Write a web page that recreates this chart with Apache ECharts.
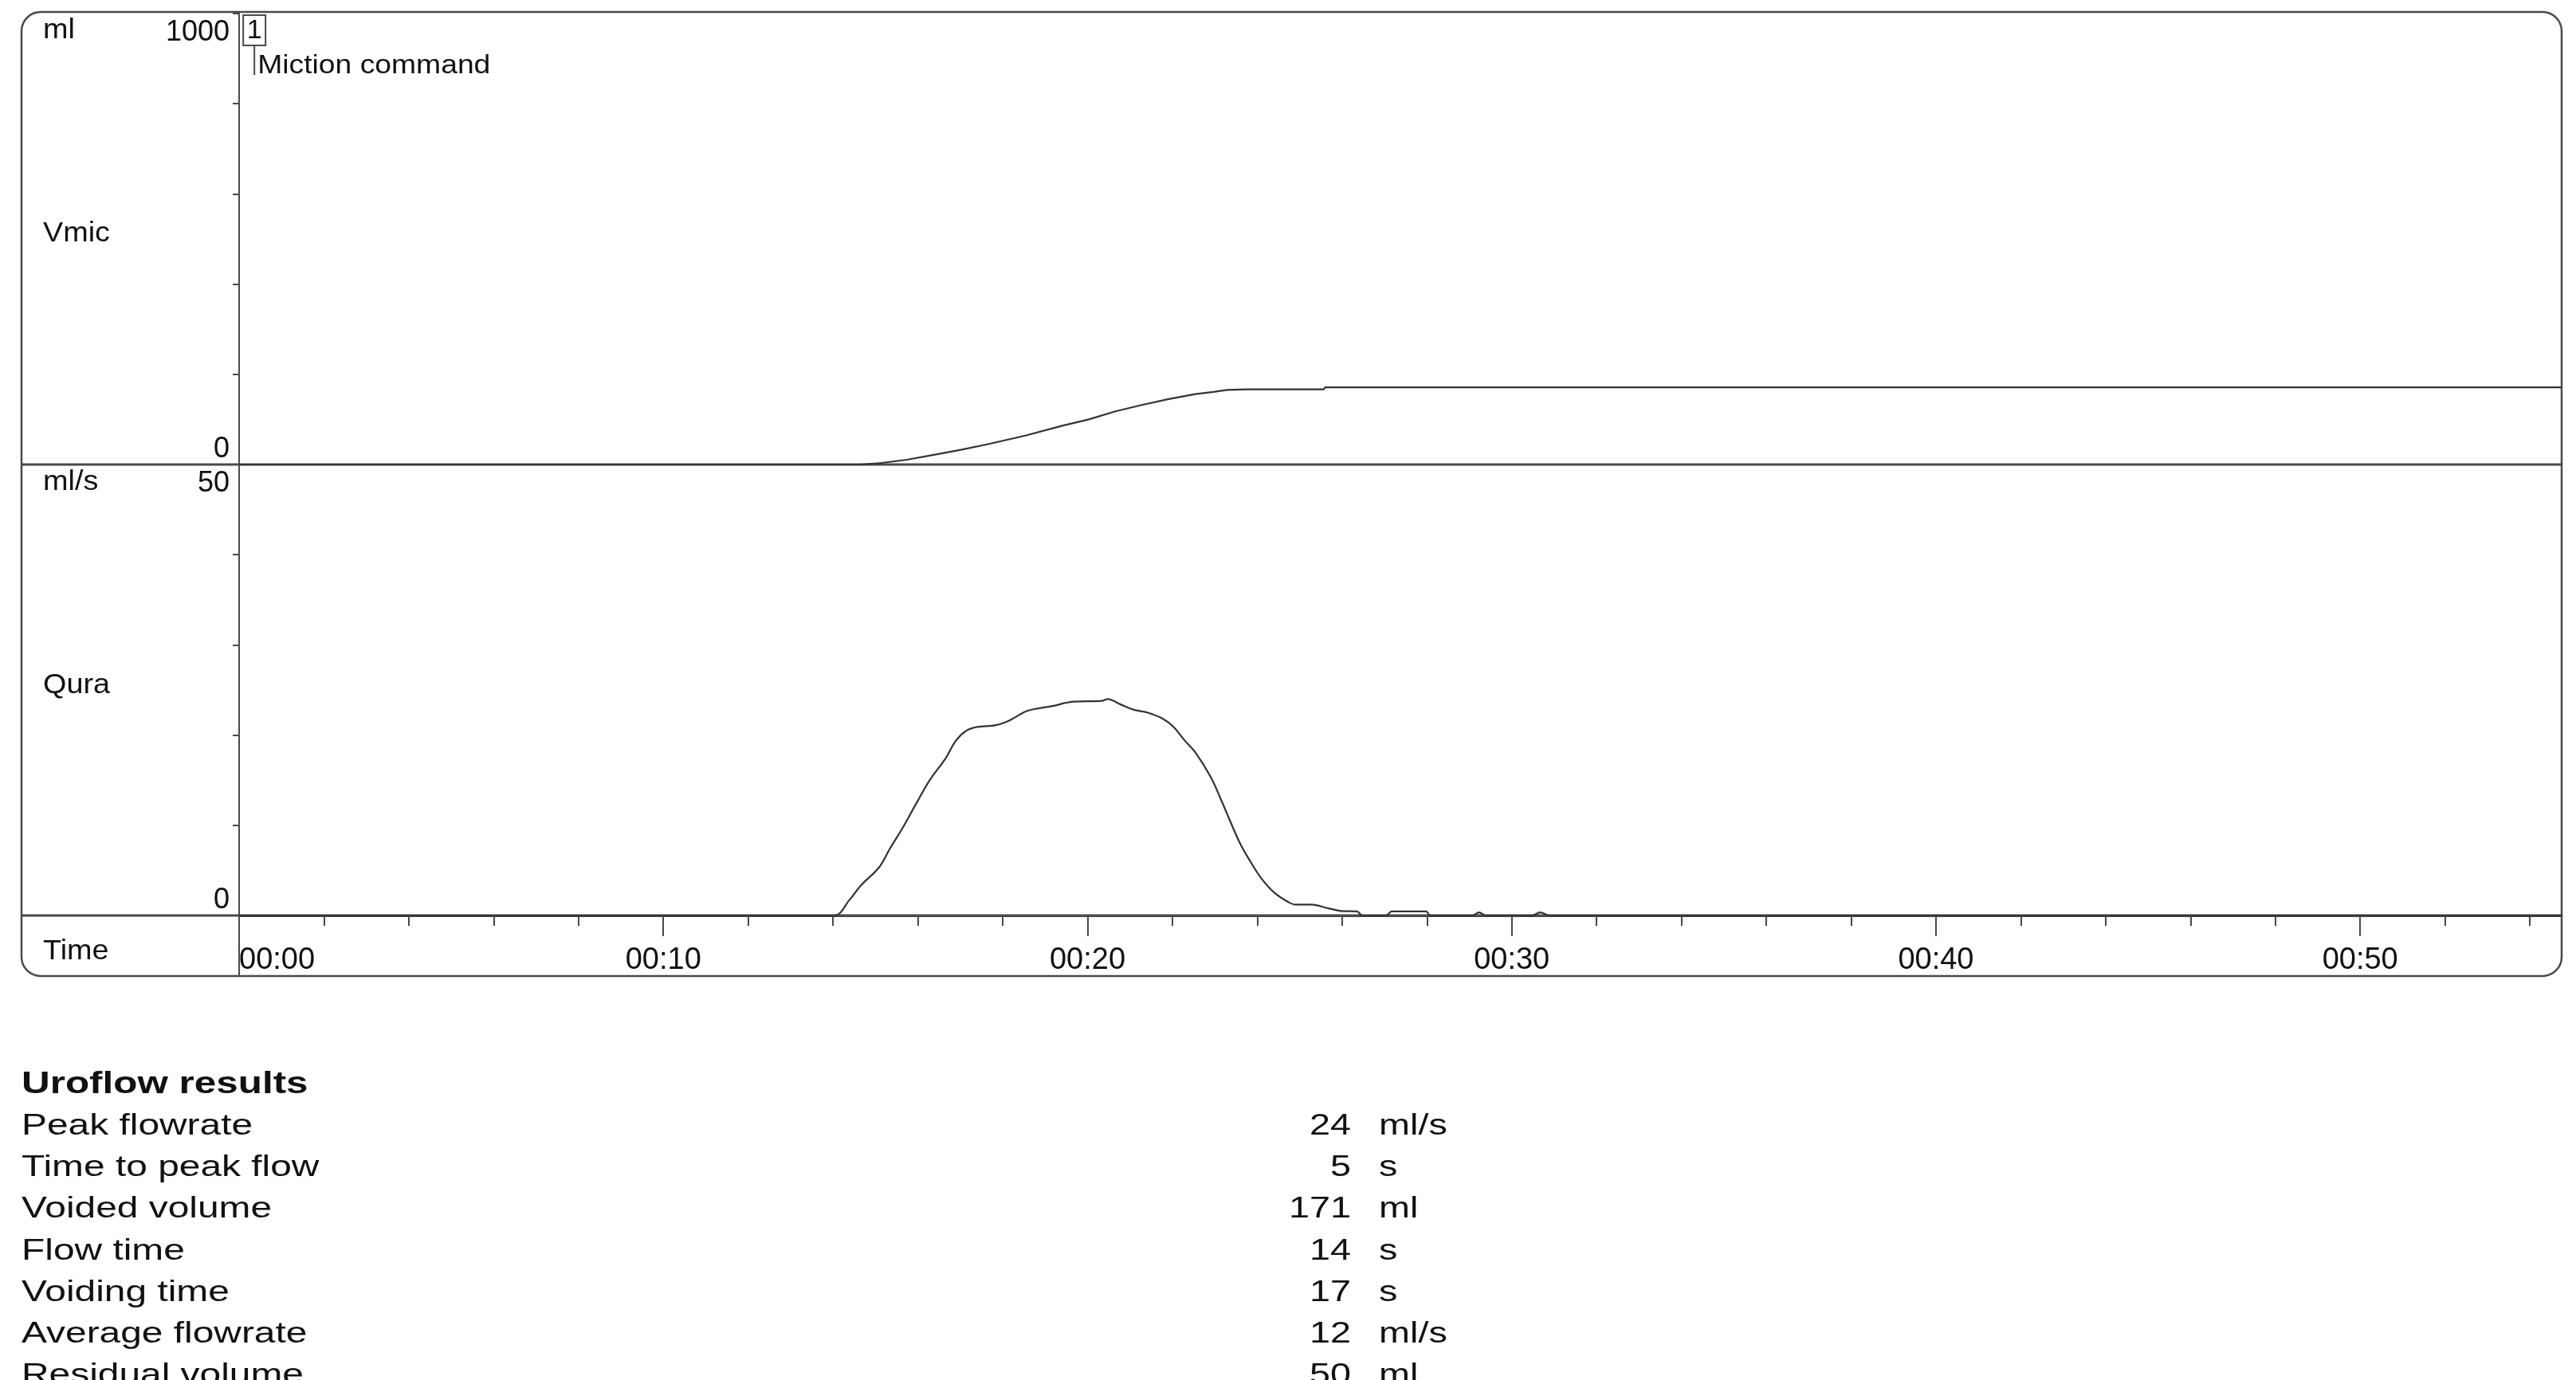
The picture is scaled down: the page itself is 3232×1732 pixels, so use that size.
<!DOCTYPE html>
<html>
<head>
<meta charset="utf-8">
<script src="https://cdn.jsdelivr.net/npm/echarts@6/dist/echarts.min.js"></script>
<style>
html,body{margin:0;padding:0;background:#fff;}
#c{width:3232px;height:1732px;}
</style>
</head>
<body>
<div id="c"></div>
<script>
// ---- data ----
const vmicTime   = [0, 14.65, 15.15, 15.74, 16.40, 17.03, 17.65, 18.53, 19.40, 20.03, 20.66, 21.28, 21.91, 22.54, 22.97, 23.29, 23.79, 25.57, 25.60, 54.75];
const vmicVolume = [0, 0, 3.5, 10.6, 22, 33, 45, 64, 86, 100, 118, 132, 145, 156, 161, 165.5, 166.6, 166.6, 171, 171];

const quraTime = [0, 14.02, 14.40, 14.65, 15.08, 15.34, 15.64, 15.96, 16.28, 16.65,
                  16.90, 17.15, 17.40, 17.84, 18.15, 18.59, 19.15, 19.66, 20.34, 20.47,
                  20.78, 21.10, 21.41, 21.78, 22.03, 22.29, 22.54, 22.91, 23.16, 23.35,
                  23.60, 23.85, 24.10, 24.41, 24.73, 24.91, 25.29, 25.67, 25.98, 26.35,
                  26.48, 27.04, 27.17, 27.98, 28.08, 29.08, 29.23, 29.39, 30.48, 30.67,
                  30.89, 54.75];
const quraFlow = [0, 0, 1.8, 3.3, 5.3, 7.4, 9.7, 12.4, 15.0, 17.4,
                  19.4, 20.5, 20.9, 21.1, 21.6, 22.7, 23.2, 23.7, 23.8, 24.0,
                  23.4, 22.8, 22.5, 21.8, 20.9, 19.4, 18.1, 15.3, 12.7, 10.6,
                  7.95, 5.9, 4.1, 2.5, 1.5, 1.2, 1.2, 0.8, 0.5, 0.45,
                  0, 0, 0.45, 0.45, 0, 0, 0.35, 0, 0, 0.35,
                  0, 0];

const volumeMax = 1000;
const volumeInterval = 200;
const flowMax = 50;
const flowInterval = 10;
const timeMax = 54.75;
const majorTimeTicks = [0, 10, 20, 30, 40, 50];
const timeTickLabels = ['00:00', '00:10', '00:20', '00:30', '00:40', '00:50'];
const minorTimeTicks = [2, 4, 6, 8, 12, 14, 16, 18, 22, 24, 26, 28, 32, 34, 36, 38, 42, 44, 46, 48, 52, 54];

const eventTimes   = [0.36];
const eventNumbers = ['1'];
const eventLabels  = ['Miction command'];

const channelUnits = ['ml', 'ml/s'];
const channelNames = ['Vmic', 'Qura'];

const resultsTitle  = 'Uroflow results';
const resultLabels  = ['Peak flowrate', 'Time to peak flow', 'Voided volume', 'Flow time', 'Voiding time', 'Average flowrate', 'Residual volume'];
const resultValues  = ['24', '5', '171', '14', '17', '12', '50'];
const resultUnits   = ['ml/s', 's', 'ml', 's', 's', 'ml/s', 'ml'];

// ---- styling / layout ----
const FONT = '"Liberation Sans", Arial, Helvetica, sans-serif';
const LINE = '#4a4a4a';
const TEXT = '#111';
const GL = 300, GR = 18, G1T = 17, GH = 566;
const BOX_L = 27, BOX_R = 3214, BOX_T = 15, BOX_B = 1225;

const chart = echarts.init(document.getElementById('c'), null, {renderer: 'canvas'});

function yAxisCfg(gridIndex, max, interval) {
  return {
    gridIndex, type: 'value', min: 0, max, interval,
    axisLine: {show: true, lineStyle: {color: LINE, width: 2}},
    axisTick: {show: true, inside: false, length: 8, lineStyle: {color: LINE, width: 2}},
    axisLabel: {
      show: true,
      formatter: v => v === max ? '{mx|' + v + '}' : (v === 0 ? '{mn|0}' : ''),
      fontSize: 36, fontFamily: FONT, color: TEXT, margin: 12,
      verticalAlignMinLabel: 'bottom', verticalAlignMaxLabel: 'top',
      rich: {
        mx: {fontSize: 36, fontFamily: FONT, color: TEXT, padding: [6, 0, 0, 0]},
        mn: {fontSize: 36, fontFamily: FONT, color: TEXT, padding: [0, 0, 1, 0]}
      }
    },
    splitLine: {show: false}
  };
}

const option = {
  animation: false,
  backgroundColor: '#fff',
  grid: [
    {left: GL, right: GR, top: G1T, height: GH},
    {left: GL, right: GR, top: G1T + GH, height: GH}
  ],
  xAxis: [
    {gridIndex: 0, type: 'value', min: 0, max: timeMax, interval: 10, position: 'bottom',
     axisLine: {show: false}, axisTick: {show: false}, axisLabel: {show: false}, splitLine: {show: false}},
    {gridIndex: 1, type: 'value', min: 0, max: timeMax, interval: 10, position: 'bottom',
     axisLine: {show: true, onZero: false, lineStyle: {color: LINE, width: 3}},
     axisTick: {show: true, length: 26, lineStyle: {color: LINE, width: 2}, customValues: majorTimeTicks},
     axisLabel: {show: true, customValues: majorTimeTicks,
       formatter: v => { const i = majorTimeTicks.indexOf(v); return i >= 0 ? timeTickLabels[i] : ''; },
       fontSize: 38, fontFamily: FONT, color: TEXT, margin: 38, alignMinLabel: 'left'},
     splitLine: {show: false}},
    {gridIndex: 1, type: 'value', min: 0, max: timeMax, interval: 2, position: 'bottom',
     axisLine: {show: false},
     axisTick: {show: true, length: 13, lineStyle: {color: LINE, width: 2}, customValues: minorTimeTicks},
     axisLabel: {show: false}, splitLine: {show: false}}
  ],
  yAxis: [
    yAxisCfg(0, volumeMax, volumeInterval),
    yAxisCfg(1, flowMax, flowInterval)
  ],
  series: [
    {name: channelNames[0], type: 'line', xAxisIndex: 0, yAxisIndex: 0,
     data: vmicTime.map((t, i) => [t, vmicVolume[i]]),
     symbol: 'none', showSymbol: false, smooth: false,
     lineStyle: {color: '#333', width: 2.2}},
    {name: channelNames[1], type: 'line', xAxisIndex: 1, yAxisIndex: 1,
     data: quraTime.map((t, i) => [t, quraFlow[i]]),
     symbol: 'none', showSymbol: false, smooth: 0.35,
     lineStyle: {color: '#333', width: 2.2}}
  ]
};
chart.setOption(option);

// ---- frame, labels, event marker, results ----
const els = [];
els.push({type: 'rect', z: 1, shape: {x: BOX_L, y: BOX_T, width: BOX_R - BOX_L, height: BOX_B - BOX_T, r: 24},
          style: {fill: 'none', stroke: LINE, lineWidth: 2.5}});
const sepY = chart.convertToPixel({yAxisIndex: 0}, 0);
const axY  = chart.convertToPixel({yAxisIndex: 1}, 0);
const x0   = chart.convertToPixel({xAxisIndex: 1}, 0);
els.push({type: 'line', z: 1, shape: {x1: BOX_L, y1: sepY, x2: BOX_R, y2: sepY}, style: {stroke: LINE, lineWidth: 3}});
els.push({type: 'line', z: 1, shape: {x1: BOX_L, y1: axY, x2: BOX_R, y2: axY}, style: {stroke: LINE, lineWidth: 3}});
els.push({type: 'line', z: 1, shape: {x1: x0, y1: BOX_T, x2: x0, y2: BOX_B}, style: {stroke: LINE, lineWidth: 2}});

function txt(s, x, y, opt) {
  opt = opt || {};
  return {type: 'text', z: 5, x, y, scaleX: opt.scaleX || 1,
          style: {text: s, fontSize: opt.size || 35, fontWeight: opt.weight || 'normal', fontFamily: FONT,
                  fill: TEXT, align: opt.align || 'left', verticalAlign: 'middle'}};
}
const colX = 54;
els.push(txt(channelUnits[0], colX, 38, {scaleX: 1.08}));
els.push(txt(channelNames[0], colX, 293, {scaleX: 1.08}));
els.push(txt(channelUnits[1], colX, 605, {scaleX: 1.08}));
els.push(txt(channelNames[1], colX, 860, {scaleX: 1.08}));
els.push(txt('Time', colX, 1194, {scaleX: 1.08}));

eventTimes.forEach((t, i) => {
  const px = chart.convertToPixel({xAxisIndex: 0}, t);
  els.push({type: 'rect', z: 5, shape: {x: px - 14, y: 19, width: 28, height: 38}, style: {fill: '#fff', stroke: LINE, lineWidth: 2}});
  els.push({type: 'text', z: 6, x: px, y: 39, style: {text: eventNumbers[i], fontSize: 34, fontFamily: FONT, fill: TEXT, align: 'center', verticalAlign: 'middle'}});
  els.push({type: 'line', z: 5, shape: {x1: px, y1: 57, x2: px, y2: 94}, style: {stroke: LINE, lineWidth: 2}});
  els.push(txt(eventLabels[i], px + 4, 83, {size: 33, scaleX: 1.13}));
});

els.push(txt(resultsTitle, 27, 1362, {size: 38, weight: 'bold', scaleX: 1.3}));
resultLabels.forEach((lab, i) => {
  const y = 1414 + i * 52.2;
  els.push(txt(lab, 27, y, {size: 36, scaleX: 1.33}));
  els.push(txt(resultValues[i], 1695, y, {size: 36, scaleX: 1.3, align: 'right'}));
  els.push(txt(resultUnits[i], 1730, y, {size: 36, scaleX: 1.3}));
});

chart.setOption({graphic: {elements: els}});
</script>
</body>
</html>
